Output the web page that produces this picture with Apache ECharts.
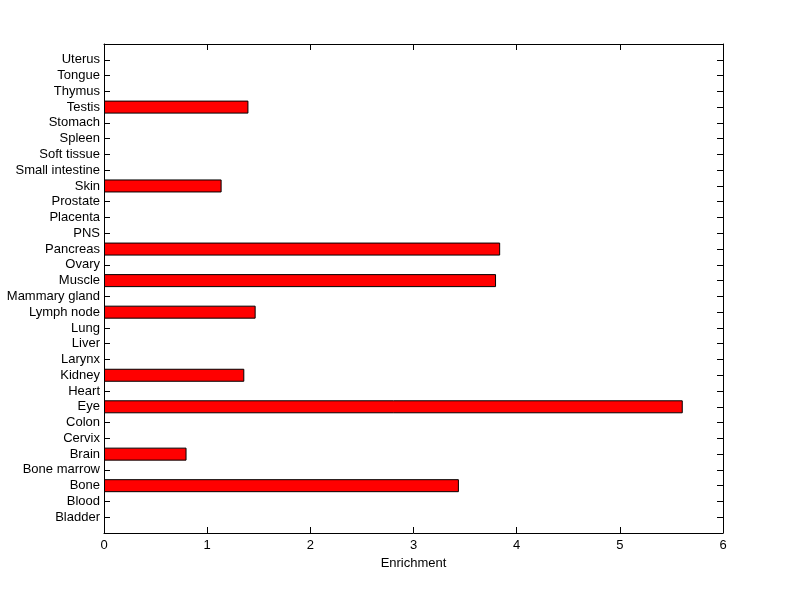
<!DOCTYPE html>
<html>
<head>
<meta charset="utf-8">
<script src="https://cdn.jsdelivr.net/npm/echarts@6/dist/echarts.min.js"></script>
<style>html,body{margin:0;padding:0;background:#fff;}#c{width:800px;height:599px;}</style>
</head>
<body>
<div id="c"></div>
<script>
const tissues = ['Bladder','Blood','Bone','Bone marrow','Brain','Cervix','Colon','Eye','Heart','Kidney','Larynx','Liver','Lung','Lymph node','Mammary gland','Muscle','Ovary','Pancreas','PNS','Placenta','Prostate','Skin','Small intestine','Soft tissue','Spleen','Stomach','Testis','Thymus','Tongue','Uterus'];
const enrichment = [0,0,3.44,0,0.80,0,0,5.61,0,1.36,0,0,0,1.47,0,3.80,0,3.84,0,0,0,1.14,0,0,0,0,1.40,0,0,0];
const xTicks = [0,1,2,3,4,5,6];

const cats = [''].concat(tissues, ['']);
const barData = [null].concat(enrichment.map(v => v === 0 ? '-' : v), [null]);

const FONT = 'Liberation Sans';
const chart = echarts.init(document.getElementById('c'), null, {renderer: 'canvas'});
const axisLine = {show: true, onZero: false, lineStyle: {color: '#000', width: 1}};
const tick = {show: true, inside: true, length: 6, lineStyle: {color: '#000', width: 1}};
chart.setOption({
  animation: false,
  backgroundColor: '#fff',
  grid: {left: 104, right: 77, top: 44, bottom: 66, containLabel: false},
  xAxis: [{
    type: 'value', position: 'bottom', min: xTicks[0], max: xTicks[xTicks.length-1], interval: 1,
    name: 'Enrichment', nameLocation: 'middle', nameGap: 24,
    nameTextStyle: {fontFamily: FONT, fontSize: 13, color: '#000'},
    axisLine: axisLine,
    axisTick: tick,
    axisLabel: {fontFamily: FONT, fontSize: 13, color: '#000', margin: 6},
    splitLine: {show: false}
  }, {
    type: 'value', position: 'top', min: xTicks[0], max: xTicks[xTicks.length-1], interval: 1,
    axisLine: axisLine,
    axisTick: tick,
    axisLabel: {show: false}, splitLine: {show: false}
  }],
  yAxis: [{
    type: 'category', position: 'left', data: cats, boundaryGap: false,
    axisLine: axisLine,
    axisTick: Object.assign({interval: 0}, tick),
    axisLabel: {interval: 0, fontFamily: FONT, fontSize: 13, color: '#000', margin: 4},
    splitLine: {show: false}
  }, {
    type: 'category', position: 'right', data: cats, boundaryGap: false,
    axisLine: axisLine,
    axisTick: Object.assign({interval: 0}, tick),
    axisLabel: {show: false}, splitLine: {show: false}
  }],
  series: [{
    type: 'bar', xAxisIndex: 0, yAxisIndex: 0, data: barData, barWidth: 13,
    itemStyle: {color: '#ff0000', borderColor: '#000', borderWidth: 1}
  }]
});
</script>
</body>
</html>
